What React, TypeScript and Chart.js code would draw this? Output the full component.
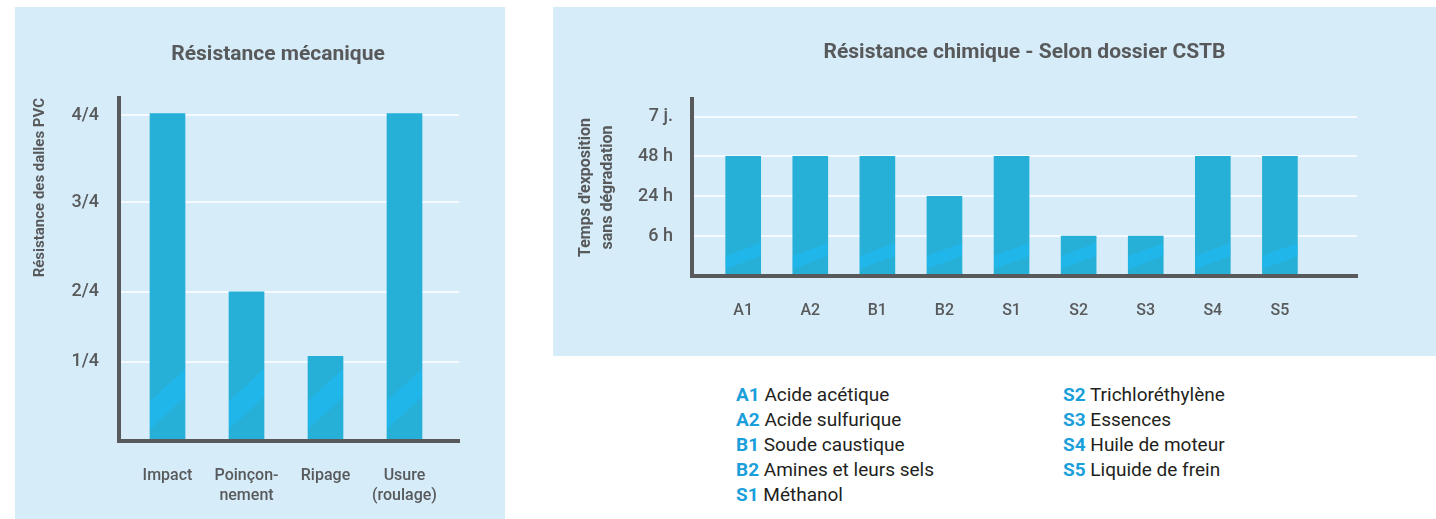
import { useEffect, useRef } from "react";
import { Chart, registerables } from "chart.js";

Chart.register(...registerables);

// ---------- data ----------
const mechTitle = "Résistance mécanique";
const mechAxisTitle = "Résistance des dalles PVC";
const mechCategories = [["Impact"], ["Poinçon-", "nement"], ["Ripage"], ["Usure", "(roulage)"]];
const mechValues = [4.02, 1.83, 1.04, 4.02];
const mechTickValues = [0.97, 1.83, 2.93, 4.0];
const mechTickLabels = ["1/4", "2/4", "3/4", "4/4"];

const chemTitle = "Résistance chimique - Selon dossier CSTB";
const chemAxisTitle = ["Temps d'exposition", "sans dégradation"];
const chemCategories = ["A1", "A2", "B1", "B2", "S1", "S2", "S3", "S4", "S5"];
const chemValues = [3, 3, 3, 2, 3, 1, 1, 3, 3];
const chemTickValues = [1, 2, 3, 4];
const chemTickLabels = ["6 h", "24 h", "48 h", "7 j."];
const chemNames = [
  "Acide acétique",
  "Acide sulfurique",
  "Soude caustique",
  "Amines et leurs sels",
  "Méthanol",
  "Trichloréthylène",
  "Essences",
  "Huile de moteur",
  "Liquide de frein",
];

// ---------- style ----------
const FONT = "Roboto, 'Noto Sans', sans-serif";
const TEXT = "#58595b";
const AXIS = "#58595b";
const BAR = "#27b0d7";
const STRIPE = "#21b6ea";
const PANEL = "#d6ecf9";
const GRID = "#f4faff";
const CODE = "#1a9fdb";

const stripePlugin = {
  id: "barStripe",
  afterDatasetsDraw(chart: any, _args: any, opts: any) {
    const { ctx } = chart;
    const meta = chart.getDatasetMeta(0);
    meta.data.forEach((bar: any) => {
      const { x, y, base, width } = bar.getProps(["x", "y", "base", "width"], true);
      const x0 = x - width / 2;
      const x1 = x + width / 2;
      ctx.save();
      ctx.beginPath();
      ctx.rect(x0, y, width, base - y);
      ctx.clip();
      ctx.beginPath();
      ctx.moveTo(x0, base - opts.offset);
      ctx.lineTo(x1, base - opts.offset - opts.rise);
      ctx.lineTo(x1, base - opts.offset - opts.rise - opts.thickness);
      ctx.lineTo(x0, base - opts.offset - opts.thickness);
      ctx.closePath();
      ctx.fillStyle = opts.color;
      ctx.fill();
      ctx.restore();
    });
  },
};

function MechChart() {
  const ref = useRef<HTMLCanvasElement>(null);
  useEffect(() => {
    const chart = new Chart(ref.current as HTMLCanvasElement, {
      type: "bar",
      data: {
        datasets: [
          {
            data: mechValues.map((v, i) => ({ x: i, y: v })),
            backgroundColor: BAR,
            barThickness: 35,
          },
        ],
      },
      options: {
        responsive: false,
        animation: false,
        layout: { padding: 0 },
        plugins: {
          legend: { display: false },
          tooltip: { enabled: false },
          title: {
            display: true,
            text: mechTitle,
            color: TEXT,
            font: { family: FONT, size: 21, weight: "bold", lineHeight: 1.2 },
            padding: { top: 35.4, bottom: 30.4 },
          },
          barStripe: { offset: 12, rise: 32, thickness: 28, color: STRIPE },
        } as any,
        scales: {
          x: {
            type: "linear",
            offset: false,
            min: -0.614,
            max: 3.69,
            afterBuildTicks: (s: any) => {
              s.ticks = mechCategories.map((_, i) => ({ value: i }));
            },
            afterFit: (s: any) => {
              s.height = 78;
            },
            ticks: {
              autoSkip: false,
              maxRotation: 0,
              minRotation: 0,
              padding: 25,
              color: TEXT,
              font: { family: FONT, size: 16, weight: "500", lineHeight: 1.25 },
              callback: (_v: any, i: number) => mechCategories[i],
            },
            grid: { display: false, drawTicks: false, offset: false },
            border: { color: AXIS, width: 4, z: 1 },
          },
          y: {
            type: "linear",
            min: 0,
            max: 4.21,
            afterBuildTicks: (s: any) => {
              s.ticks = mechTickValues.map((v) => ({ value: v }));
            },
            afterFit: (s: any) => {
              s.width = 104;
            },
            ticks: {
              padding: 20,
              color: TEXT,
              font: { family: FONT, size: 18, weight: "500" },
              callback: (_v: any, i: number) => mechTickLabels[i],
            },
            grid: { color: GRID, lineWidth: 2, drawTicks: false },
            border: { color: AXIS, width: 4, z: 1 },
            title: {
              display: true,
              text: mechAxisTitle,
              align: "end",
              color: TEXT,
              font: { family: FONT, size: 15, weight: "bold", lineHeight: 1.2 },
              padding: { top: 16, bottom: 0 },
            },
          },
          spacer: {
            type: "linear",
            position: "right",
            display: true,
            afterFit: (s: any) => {
              s.width = 82;
            },
            ticks: { display: false },
            grid: { display: false, drawTicks: false },
            border: { display: false },
          },
        },
      } as any,
      plugins: [stripePlugin],
    });
    return () => chart.destroy();
  }, []);
  return (
    <canvas
      ref={ref}
      width={526}
      height={512}
      style={{ display: "block", position: "absolute", left: 0, top: 0 }}
    />
  );
}

function ChemChart() {
  const ref = useRef<HTMLCanvasElement>(null);
  useEffect(() => {
    const chart = new Chart(ref.current as HTMLCanvasElement, {
      type: "bar",
      data: {
        datasets: [
          {
            data: chemValues.map((v, i) => ({ x: i, y: v })),
            backgroundColor: BAR,
            barThickness: 35,
          },
        ],
      },
      options: {
        responsive: false,
        animation: false,
        layout: { padding: { left: 0, right: 79, top: 0, bottom: 0 } },
        plugins: {
          legend: { display: false },
          tooltip: { enabled: false },
          title: {
            display: true,
            fullSize: false,
            text: chemTitle,
            color: TEXT,
            font: { family: FONT, size: 21, weight: "bold", lineHeight: 1.2 },
            padding: { top: 33.4, bottom: 33.4 },
          },
          barStripe: { offset: 7, rise: 13, thickness: 13, color: STRIPE },
        } as any,
        scales: {
          x: {
            type: "linear",
            offset: false,
            min: -0.763,
            max: 9.149,
            afterBuildTicks: (s: any) => {
              s.ticks = chemCategories.map((_, i) => ({ value: i }));
            },
            afterFit: (s: any) => {
              s.height = 80;
            },
            ticks: {
              autoSkip: false,
              maxRotation: 0,
              minRotation: 0,
              padding: 25,
              color: TEXT,
              font: { family: FONT, size: 16, weight: "500", lineHeight: 1.25 },
              callback: (_v: any, i: number) => chemCategories[i],
            },
            grid: { display: false, drawTicks: false, offset: false },
            border: { color: AXIS, width: 4, z: 1 },
          },
          y: {
            type: "linear",
            min: 0,
            max: 4.44,
            afterBuildTicks: (s: any) => {
              s.ticks = chemTickValues.map((v) => ({ value: v }));
            },
            afterFit: (s: any) => {
              s.width = 139;
            },
            ticks: {
              padding: 19,
              color: TEXT,
              font: { family: FONT, size: 18, weight: "500" },
              callback: (_v: any, i: number) => chemTickLabels[i],
            },
            grid: { color: GRID, lineWidth: 2, drawTicks: false },
            border: { color: AXIS, width: 4, z: 1 },
            title: {
              display: true,
              text: chemAxisTitle,
              color: TEXT,
              font: { family: FONT, size: 16, weight: "bold", lineHeight: 1.375 },
              padding: { top: 21.5, bottom: 0 },
            },
          },
        },
      } as any,
      plugins: [stripePlugin],
    });
    return () => chart.destroy();
  }, []);
  return <canvas ref={ref} width={883} height={349} style={{ display: "block" }} />;
}

function LegendColumn({ start, end, left }: { start: number; end: number; left: number }) {
  return (
    <div
      style={{
        position: "absolute",
        left,
        top: 381.5,
        fontFamily: FONT,
        fontSize: 19,
        lineHeight: "25.2px",
        color: "#231f20",
        whiteSpace: "nowrap",
      }}
    >
      {chemCategories.slice(start, end).map((code, k) => (
        <div key={code}>
          <span style={{ color: CODE, fontWeight: 700 }}>{code}</span> {chemNames[start + k]}
        </div>
      ))}
    </div>
  );
}

export default function App() {
  return (
    <div
      style={{
        position: "absolute",
        left: 0,
        top: 0,
        width: 1436,
        height: 519,
        overflow: "hidden",
        background: "#ffffff",
      }}
    >
      <div style={{ position: "absolute", left: 15, top: 7, width: 490, height: 512, background: PANEL }} />
      <div style={{ position: "absolute", left: 553, top: 7, width: 883, height: 349, background: PANEL }} />
      <div style={{ position: "absolute", left: 15, top: 7, width: 526, height: 512 }}>
        <MechChart />
      </div>
      <div style={{ position: "absolute", left: 553, top: 7, width: 883, height: 349 }}>
        <ChemChart />
      </div>
      <LegendColumn start={0} end={5} left={736} />
      <LegendColumn start={5} end={9} left={1063} />
    </div>
  );
}
